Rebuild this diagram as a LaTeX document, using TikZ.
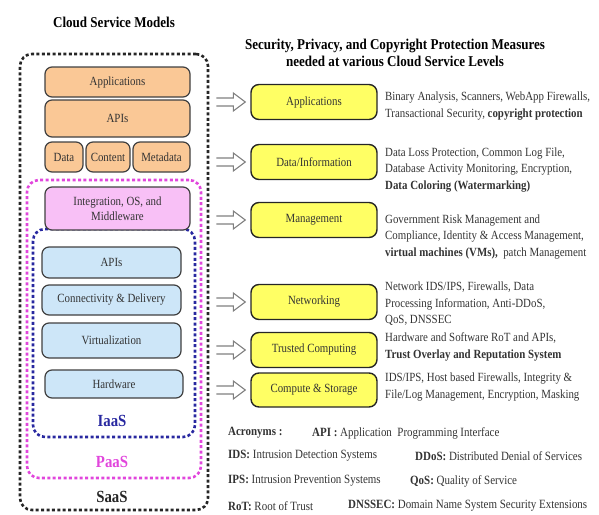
\documentclass[tikz,border=0pt]{standalone}
\usepackage{fontspec}
\setmainfont{Liberation Serif}[FakeStretch=0.87]
\usetikzlibrary{calc}

\definecolor{appfill}{RGB}{250,200,150}
\definecolor{paasfill}{RGB}{248,192,246}
\definecolor{iaasfill}{RGB}{205,230,248}
\definecolor{secfill}{RGB}{255,255,100}
\definecolor{paasline}{RGB}{225,70,220}
\definecolor{iaasline}{RGB}{40,40,160}

\tikzset{
  layer/.style={rounded corners=12pt, line width=2.6pt, dash pattern=on 3pt off 2.4pt, inner sep=0pt},
  box/.style={draw=black!75, line width=1.2pt, rounded corners=7pt, inner sep=0pt, align=center,
    font=\fontsize{12.5}{15}\selectfont, text=black!80},
  appbox/.style={box, fill=appfill},
  paasbox/.style={box, fill=paasfill},
  iaasbox/.style={box, fill=iaasfill},
  secbox/.style={box, fill=secfill, draw=black!85, line width=1.4pt, rounded corners=8pt, minimum width=126pt, minimum height=35pt},
  title/.style={font=\bfseries\fontsize{15}{17}\selectfont, align=center},
  model/.style={font=\bfseries\fontsize{17}{17}\selectfont},
  note/.style={anchor=west, align=left, inner sep=0pt, font=\fontsize{12.5}{16.5}\selectfont, text=black!80},
  acr/.style={anchor=west, inner sep=0pt, font=\fontsize{12.6}{14}\selectfont, text=black!80},
  % 空心箭头 ⇨
  hollowarrow/.style={draw=black!50, line width=1.1pt, line join=miter,
    to path={let \p1=(\tikztostart), \p2=(\tikztotarget) in
      ({\x1},{\y1+4pt}) -- ({\x2-12pt},{\y1+4pt}) -- ({\x2-12pt},{\y1+9pt}) -- ({\x2},{\y1})
      -- ({\x2-12pt},{\y1-9pt}) -- ({\x2-12pt},{\y1-4pt}) -- ({\x1},{\y1-4pt})}}
}

\begin{document}
\begin{tikzpicture}[x=1pt, y=-1pt]
\useasboundingbox (0,0) rectangle (599,514);

% 三层虚线框 SaaS / PaaS / IaaS
\node[layer, draw=black!85, minimum width=188pt, minimum height=456pt] (saas) at (114,282) {};
\node[layer, draw=paasline, minimum width=174pt, minimum height=298pt] (paas) at (114,329) {};
\node[layer, draw=iaasline, minimum width=162pt, minimum height=208pt] (iaas) at (114,333) {};

\node[title] (models) at (114,22) {Cloud Service Models};

\node[appbox, minimum width=145pt, minimum height=30pt] (app) at (117.5,82) {Applications};
\node[appbox, minimum width=145pt, minimum height=37pt] (appapi) at (117.5,118.5) {APIs};
\node[appbox, minimum width=38pt, minimum height=30pt] (data) at (64,157) {Data};
\node[appbox, minimum width=44pt, minimum height=30pt] (content) at (108,157) {Content};
\node[appbox, minimum width=57pt, minimum height=30pt] (meta) at (161.5,157) {Metadata};

\node[paasbox, minimum width=145pt, minimum height=43pt] (mid) at (117.5,208.5) {Integration, OS, and\\Middleware};

\node[iaasbox, minimum width=139pt, minimum height=31pt] (api) at (111.5,262.5) {APIs};
\node[iaasbox, minimum width=139pt, minimum height=30pt] (conn) at (111.5,300) {Connectivity \& Delivery};
\node[iaasbox, minimum width=139pt, minimum height=35pt] (virt) at (111.5,340.5) {Virtualization};
\node[iaasbox, minimum width=138pt, minimum height=28pt] (hw) at (114,384) {Hardware};

\node[model, text=iaasline] (iaaslbl) at (112,421) {IaaS};
\node[model, text=paasline] (paaslbl) at (112,462) {PaaS};
\node[model, text=black!85] (saaslbl) at (112,497) {SaaS};

% 右侧：各层的安全措施
\node[title] (sectitle) at (395,53) {Security, Privacy, and Copyright Protection Measures\\needed at various Cloud Service Levels};

\node[secbox] (sapp) at (314,102) {Applications};
\node[secbox] (sdata) at (314,162) {Data/Information};
\node[secbox] (smgmt) at (314,220) {Management};
\node[secbox] (snet) at (314,302) {Networking};
\node[secbox] (strust) at (314,350) {Trusted Computing};
\node[secbox, minimum height=34pt] (scomp) at (314,390) {Compute \& Storage};

\foreach \s in {sapp,sdata,smgmt,snet,strust,scomp}
  \draw[hollowarrow] ([xshift=7pt]saas.east |- \s) to ([xshift=-5pt]\s.west);

\node[note] (tapp) at (385,106) {Binary Analysis, Scanners, WebApp Firewalls,\\Transactional Security, \textbf{copyright protection}};
\node[note] (tdata) at (385,170) {Data Loss Protection, Common Log File,\\Database Activity Monitoring, Encryption,\\\textbf{Data Coloring (Watermarking)}};
\node[note] (tmgmt) at (385,237) {Government Risk Management and\\Compliance, Identity \& Access Management,\\\textbf{virtual machines (VMs),}~ patch Management};
\node[note] (tnet) at (385,304) {Network IDS/IPS, Firewalls, Data\\Processing Information, Anti-DDoS,\\QoS, DNSSEC};
\node[note] (ttrust) at (385,347) {Hardware and Software RoT and APIs,\\\textbf{Trust Overlay and Reputation System}};
\node[note] (tcomp) at (385,387) {IDS/IPS, Host based Firewalls, Integrity \&\\File/Log Management, Encryption, Masking};

% 缩写说明
\node[acr] (acr) at (228,433) {\textbf{Acronyms :}};
\node[acr] (apidef) at (312,433) {\textbf{API :} Application~ Programming Interface};
\node[acr] (ids) at (228,456) {\textbf{IDS:} Intrusion Detection Systems};
\node[acr] (ddos) at (415,456) {\textbf{DDoS:} Distributed Denial of Services};
\node[acr] (ips) at (228,481) {\textbf{IPS:} Intrusion Prevention Systems};
\node[acr] (qos) at (410,481) {\textbf{QoS:} Quality of Service};
\node[acr] (rot) at (228,506) {\textbf{RoT:} Root of Trust};
\node[acr] (dnssec) at (348,506) {\textbf{DNSSEC:} Domain Name System Security Extensions};
\end{tikzpicture}
\end{document}
